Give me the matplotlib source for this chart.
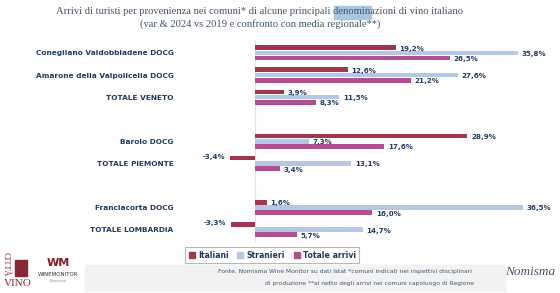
import matplotlib.pyplot as plt
from matplotlib.lines import Line2D
from matplotlib.patches import Rectangle
import numpy as np

# dati (var % 2024 vs 2019)
categorie = ["Conegliano Valdobbiadene DOCG", "Amarone della Valpolicella DOCG", "TOTALE VENETO",
             "Barolo DOCG", "TOTALE PIEMONTE",
             "Franciacorta DOCG", "TOTALE LOMBARDIA"]
posizioni = [0, 1, 2, 4, 5, 7, 8]
italiani = [19.2, 12.6, 3.9, 28.9, -3.4, 1.6, -3.3]
stranieri = [35.8, 27.6, 11.5, 7.3, 13.1, 36.5, 14.7]
totale = [26.5, 21.2, 8.3, 17.6, 3.4, 16.0, 5.7]
serie = ["Italiani", "Stranieri", "Totale arrivi"]

colori = ["#A0374F", "#B4C7E7", "#B0508E"]
navy = "#1F3A5F"

fig = plt.figure(figsize=(5.6, 2.93), dpi=100)
ax = fig.add_axes([200 / 560, 1 - 242.7 / 293, 340 / 560, 203 / 293])

y = np.array(posizioni, dtype=float)
offs = [-0.235, 0.0, 0.235]
for vals, off, col in zip([italiani, stranieri, totale], offs, colori):
    ax.barh(y + off, vals, height=0.215, color=col)
    for yy, v in zip(y + off, vals):
        lab = f"{v:.1f}%".replace(".", ",")
        if v >= 0:
            ax.text(v + 0.5, yy + 0.05, lab, va="center", ha="left",
                    fontsize=5.1, fontweight="bold", color=navy)
        else:
            ax.text(v - 0.6, yy - 0.05, lab, va="center", ha="right",
                    fontsize=5.1, fontweight="bold", color=navy)

ax.set_xlim(-7.48, 38.8)
ax.set_ylim(8.6, -0.6)
ax.axvline(0, color="#DCE3EF", lw=0.8, zorder=0)
ax.set_yticks(posizioni)
ax.set_yticklabels(categorie, fontsize=5.3, fontweight="bold", color=navy)
ax.tick_params(axis="y", length=0, pad=19)
ax.set_xticks([])
for s in ax.spines.values():
    s.set_visible(False)

# titolo
tcol = "#44546A"
tprops = dict(fontsize=7.6, family="Liberation Serif", color=tcol)
riga1 = "Arrivi di turisti per provenienza nei comuni* di alcune principali denominazioni di vino italiano"
t1 = fig.text(260 / 560, 1 - 12 / 293, riga1, ha="center", va="center", **tprops)
fig.text(260 / 560, 1 - 24 / 293, "(var & 2024 vs 2019 e confronto con media regionale**)",
         ha="center", va="center", **tprops)

# evidenziazione di "denomin" nel titolo
fig.canvas.draw()
r = fig.canvas.get_renderer()
bb = t1.get_window_extent(r)
pre = fig.text(0, 0, riga1.split("denomin")[0], **tprops)
sel = fig.text(0, 0, "denomin", **tprops)
w_pre = pre.get_window_extent(r).width
w_sel = sel.get_window_extent(r).width
pre.remove()
sel.remove()
fig.patches.append(Rectangle(((bb.x0 + w_pre) / 560, 1 - 19 / 293), w_sel / 560, 13 / 293,
                             transform=fig.transFigure, color="#A9C6E3", zorder=0))

# legenda
handles = [Line2D([], [], marker="s", ls="", color=c, markersize=4) for c in colori]
leg = fig.legend(handles, serie, loc="center", bbox_to_anchor=(272 / 560, 1 - 255 / 293),
                 ncol=3, frameon=True, fancybox=False, edgecolor="#A6A6A6",
                 prop={"size": 5.6, "weight": "bold"}, handletextpad=0.3,
                 columnspacing=1.0, borderpad=0.4, handlelength=1.0)
leg.get_frame().set_linewidth(0.8)
for t in leg.get_texts():
    t.set_color(navy)

# fonte
fig.patches.append(Rectangle((85 / 560, 1 - 291 / 293), 420 / 560, 26 / 293,
                             transform=fig.transFigure, color="#F2F2F2", zorder=0))
fig.text(472 / 560, 1 - 272 / 293, "Fonte. Nomisma Wine Monitor su dati Istat *comuni indicati nei rispettivi disciplinari",
         ha="right", va="center", fontsize=4.3, color="#44546A")
fig.text(474 / 560, 1 - 283 / 293, "di produzione **al netto degli arrivi nei comuni capoluogo di Regione",
         ha="right", va="center", fontsize=4.3, color="#44546A")

# loghi (testo)
fig.text(18 / 560, 1 - 283 / 293, "VINO", ha="center", va="center", fontsize=8,
         family="Liberation Serif", color="#8B2635")
fig.text(6 / 560, 1 - 264 / 293, "CITTÀ", ha="center", va="center", fontsize=6,
         family="Liberation Serif", color="#8B2635", rotation=-90)
fig.patches.append(Rectangle((15 / 560, 1 - 276 / 293), 12 / 560, 16 / 293,
                             transform=fig.transFigure, color="#8B2635"))
fig.text(58 / 560, 1 - 263 / 293, "WM", ha="center", va="center", fontsize=8,
         fontweight="bold", color="#8B1A2B")
fig.text(58 / 560, 1 - 275 / 293, "WINEMONITOR", ha="center", va="center", fontsize=4,
         color="#333333")
fig.text(58 / 560, 1 - 281 / 293, "Nomisma", ha="center", va="center", fontsize=2.5,
         color="#888888")
fig.text(530 / 560, 1 - 272 / 293, "Nomisma", ha="center", va="center", fontsize=9.5,
         family="Liberation Serif", style="italic", color="#44546A")

fig.savefig("out.png", dpi=100)
